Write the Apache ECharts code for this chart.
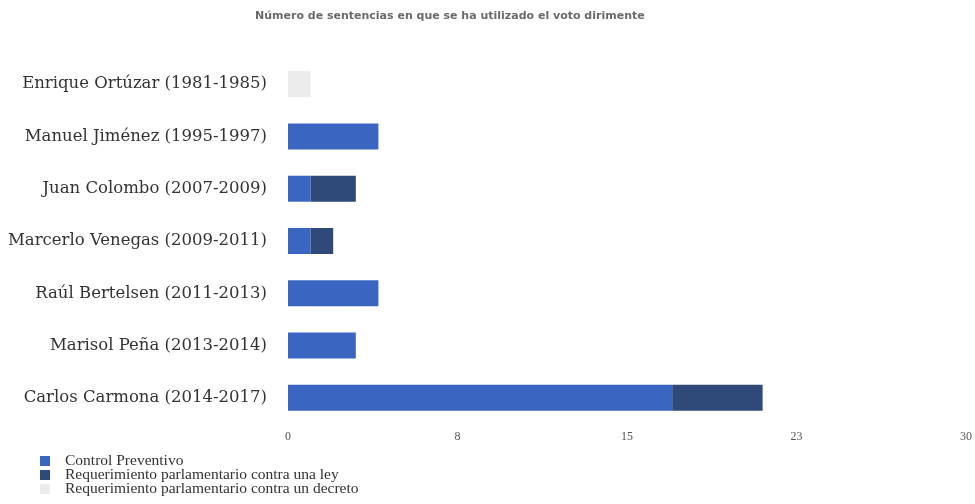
<!DOCTYPE html>
<html>
<head>
<meta charset="utf-8">
<script src="https://cdn.jsdelivr.net/npm/echarts@6/dist/echarts.min.js"></script>
<style>
    html, body { margin: 0; padding: 0; background: #fff; }
    #main { width: 975px; height: 504px; }
</style>
</head>
<body>
<div id="main"></div>
<script>
    // ministros (de arriba hacia abajo)
    var ministros = [
        'Enrique Ortúzar (1981-1985)',
        'Manuel Jiménez (1995-1997)',
        'Juan Colombo (2007-2009)',
        'Marcerlo Venegas (2009-2011)',
        'Raúl Bertelsen (2011-2013)',
        'Marisol Peña (2013-2014)',
        'Carlos Carmona (2014-2017)'
    ];
    var controlPreventivo = [0, 4, 1, 1, 4, 3, 17];
    var reqLey = [0, 0, 2, 1, 0, 0, 4];
    var reqDecreto = [1, 0, 0, 0, 0, 0, 0];
    var serieNombres = [
        'Control Preventivo',
        'Requerimiento parlamentario contra una ley',
        'Requerimiento parlamentario contra un decreto'
    ];
    var colores = ['#3a66c2', '#2f4a78', '#ececec'];

    var chart = echarts.init(document.getElementById('main'));
    var serif = '"Liberation Serif", "DejaVu Serif", serif';

    function barSerie(name, data, color) {
        return {
            name: name,
            type: 'bar',
            stack: 'total',
            barWidth: 26,
            data: data,
            itemStyle: {color: color},
            emphasis: {disabled: true}
        };
    }

    chart.setOption({
        animation: false,
        color: colores,
        title: {
            text: 'Número de sentencias en que se ha utilizado el voto dirimente',
            left: 255,
            top: 11,
            padding: 0,
            textStyle: {
                fontFamily: '"DejaVu Sans", sans-serif',
                fontSize: 11,
                fontWeight: 'bold',
                color: '#6a6a6a'
            }
        },
        legend: {
            orient: 'vertical',
            left: 40,
            top: 453,
            padding: 0,
            itemWidth: 10,
            itemHeight: 10,
            itemGap: -2,
            icon: 'rect',
            data: serieNombres,
            textStyle: {
                fontFamily: serif,
                fontSize: 15.5,
                color: '#333',
                lineHeight: 13,
                padding: [0, 0, 0, 10]
            }
        },
        grid: {
            left: 288,
            right: 5,
            top: 58,
            height: 366
        },
        xAxis: {
            type: 'value',
            min: 0,
            max: 30,
            interval: 7.5,
            axisLine: {show: false},
            axisTick: {show: false},
            splitLine: {show: false},
            axisLabel: {
                margin: 7,
                fontFamily: serif,
                fontSize: 12,
                color: '#555',
                formatter: function (v) { return Math.round(v); }
            }
        },
        yAxis: {
            type: 'category',
            inverse: true,
            data: ministros,
            axisLine: {show: false},
            axisTick: {show: false},
            axisLabel: {
                margin: 21,
                fontFamily: '"DejaVu Serif", serif',
                fontSize: 16.5,
                color: '#333'
            }
        },
        series: [
            barSerie(serieNombres[0], controlPreventivo, colores[0]),
            barSerie(serieNombres[1], reqLey, colores[1]),
            barSerie(serieNombres[2], reqDecreto, colores[2])
        ]
    });
</script>
</body>
</html>
